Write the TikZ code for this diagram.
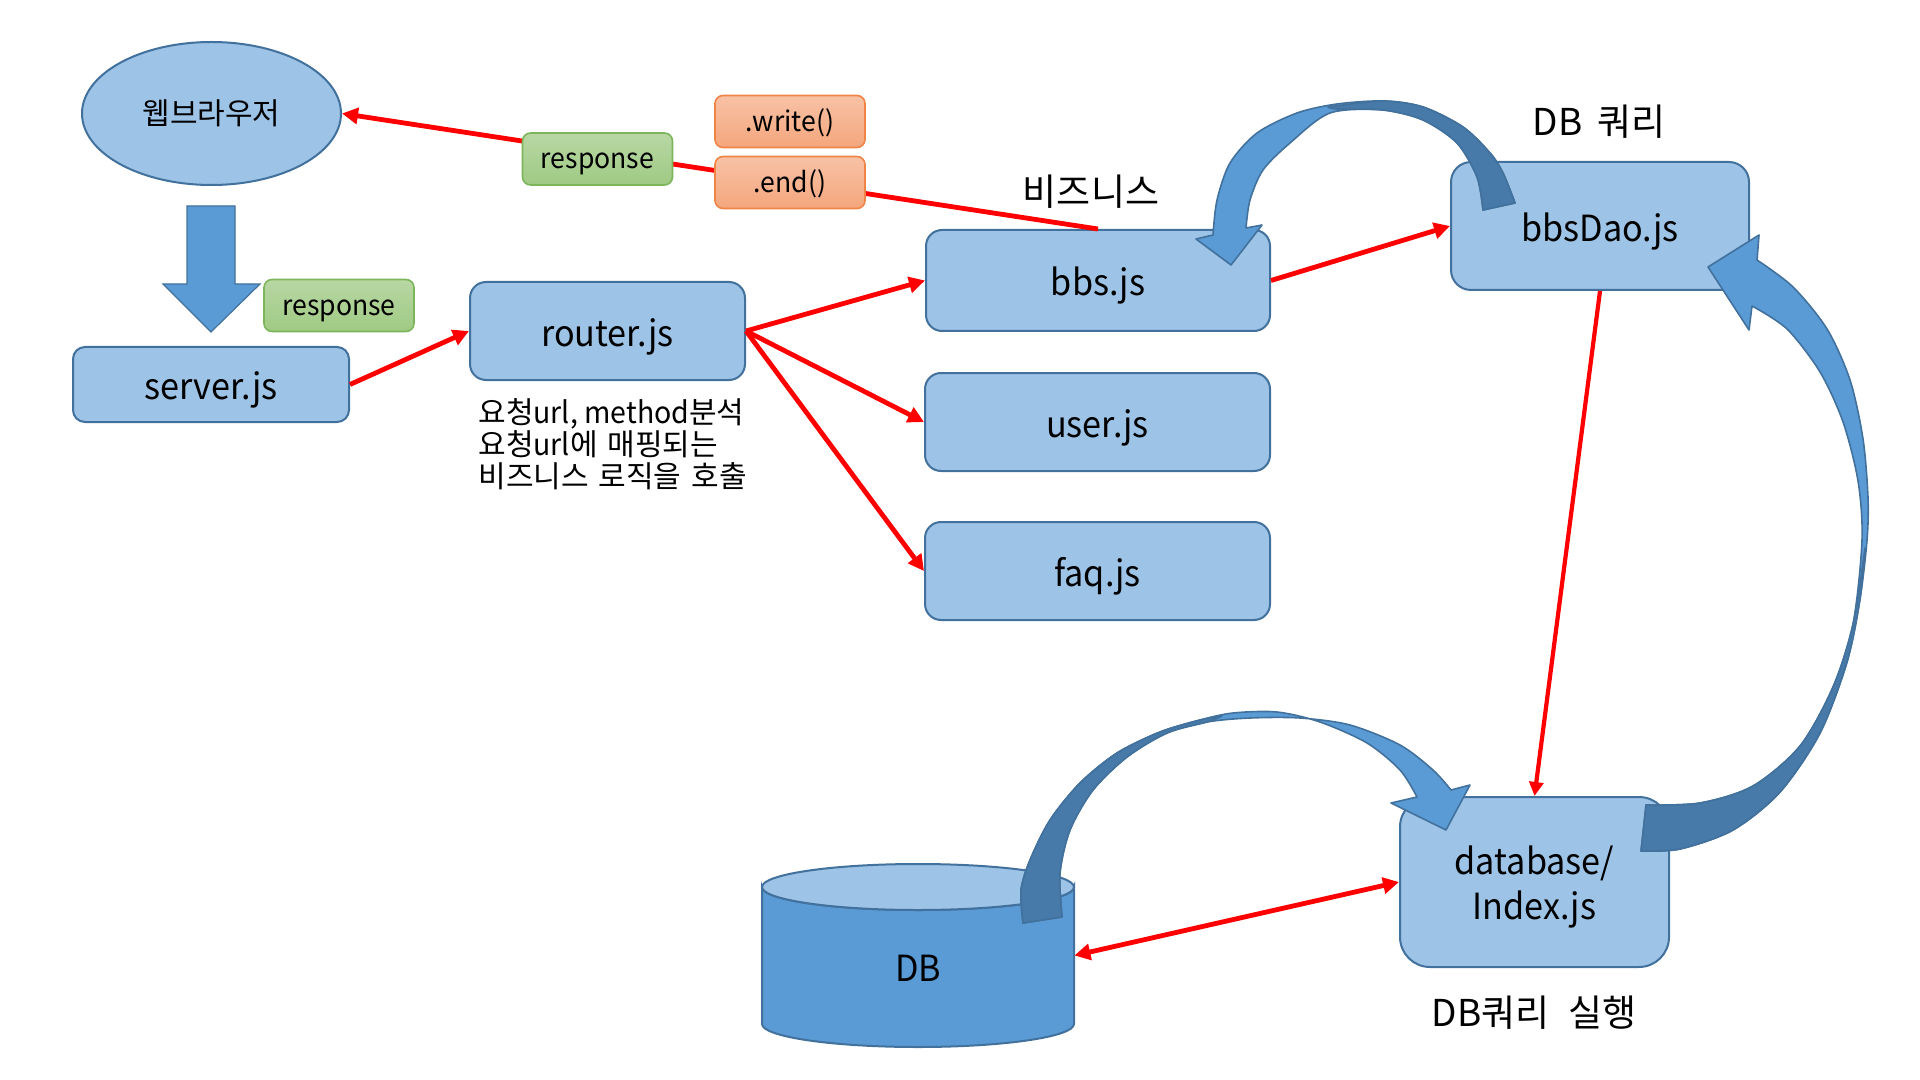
\documentclass[tikz,border=0pt]{standalone}
\usepackage{fontspec}
\setmainfont{Noto Sans CJK KR}
\newfontfamily\narrowfont[FakeStretch=0.95]{Noto Sans CJK KR}
\usetikzlibrary{arrows.meta, shapes.geometric}

\definecolor{boxfill}{HTML}{9DC3E6}
\definecolor{boxline}{HTML}{41719C}
\definecolor{flowlight}{HTML}{5B9BD5}
\definecolor{flowdark}{HTML}{477AA8}
\definecolor{tagtop}{HTML}{B8D7A4}
\definecolor{tagbottom}{HTML}{9FCA83}
\definecolor{tagline}{HTML}{7DB55A}
\definecolor{calltop}{HTML}{F8C2A6}
\definecolor{callbottom}{HTML}{F4A67C}
\definecolor{callline}{HTML}{EF8446}

\begin{document}
\begin{tikzpicture}[
  x = 0.5pt, y = -0.5pt,
  jsbox/.style = {rectangle, rounded corners = #1, fill = boxfill, draw = boxline, line width = 1pt,
    inner sep = 0pt, text height = 19.5pt, text depth = 4pt,
    font = \narrowfont\fontsize{18}{22.5}\selectfont},
  jsbox/.default = 8pt,
  resbox/.style = {rectangle, rounded corners = 4pt, top color = tagtop, bottom color = tagbottom,
    draw = tagline, line width = 0.8pt, minimum width = 75pt, minimum height = 26pt,
    inner sep = 0pt, text height = 12.5pt, text depth = 2.5pt,
    font = \narrowfont\fontsize{14}{16}\selectfont},
  callbox/.style = {resbox, top color = calltop, bottom color = callbottom, draw = callline},
  caption/.style = {inner sep = 0pt, font = \fontsize{18.5}{22}\selectfont},
  redflow/.style = {red, line width = 2.4pt, -{Triangle[length = 8pt, width = 8pt]}},
  bendband/.style = {draw = boxline, line width = 0.8pt, line join = round},
  ]
  \useasboundingbox (0,0) rectangle (1920,1080);

  % boxes
  \node[ellipse, fill = boxfill, draw = boxline, line width = 1pt, minimum width = 129.5pt,
    minimum height = 71.5pt, inner sep = 0pt, font = \fontsize{15}{17}\selectfont]
    (browser) at (211.5,113.5) {웹브라우저};
  \node[jsbox = 6pt, minimum width = 138pt, minimum height = 37.5pt] (server) at (211,384.5) {server.js};
  \node[jsbox, minimum width = 137.5pt, minimum height = 49pt] (router) at (607.5,331) {router.js};
  \node[jsbox, minimum width = 172pt, minimum height = 50.5pt] (bbs) at (1098,280.5) {bbs.js};
  \node[jsbox, minimum width = 172.5pt, minimum height = 49pt] (user) at (1097.5,422) {user.js};
  \node[jsbox, minimum width = 172.5pt, minimum height = 49pt] (faq) at (1097.5,571) {faq.js};
  \node[jsbox = 10pt, minimum width = 149pt, minimum height = 64pt] (dao) at (1600,226) {bbsDao.js};
  \node[jsbox = 15pt, minimum width = 134.5pt, minimum height = 85pt, align = center,
    text height = {}, text depth = {}]
    (dbindex) at (1534.5,882) {\rule{0pt}{19.7pt}database/\\Index.js};

  % DB cylinder
  \node[minimum width = 156pt, minimum height = 91.5pt, inner sep = 0pt] (db) at (918,955.5) {};
  \path[fill = flowlight, draw = boxline, line width = 1pt]
    (762,887) -- (762,1024) arc[start angle = 180, end angle = 0, x radius = 156, y radius = 23]
    -- (1074,887) arc[start angle = 0, end angle = 180, x radius = 156, y radius = 23] -- cycle;
  \draw[fill = boxfill, draw = boxline, line width = 1pt] (918,887) ellipse[x radius = 156, y radius = 23];
  \node[caption, font = \narrowfont\fontsize{18}{22}\selectfont] (dbtext) at (918,968) {DB};

  % response back to the browser
  \draw[redflow] (bbs.north) -- (browser.east);
  \node[resbox] (resp) at (597.5,159) {response};
  \node[callbox] (write) at (790,121.5) {.write()};
  \node[callbox] (end) at (790,182.5) {.end()};
  \node[resbox] (resp2) at (339,305.5) {response};

  % request flow
  \draw[redflow] (server.east) -- (router.west);
  \draw[redflow] (router.east) -- (bbs.west);
  \draw[redflow] (router.east) -- (user.west);
  \draw[redflow] (router.east) -- (faq.west);
  \draw[redflow] (bbs.east) -- (dao.west);
  \draw[redflow, line width = 2.1pt, -{Triangle[length = 7pt, width = 7pt]}] (dao.south) -- (dbindex.north);
  \draw[redflow, {Triangle[length = 8pt, width = 8pt]}-{Triangle[length = 8pt, width = 8pt]}]
    (db.east) -- (dbindex.west);

  % captions
  \node[anchor = north west, inner sep = 0pt, align = left, font = \fontsize{15}{16}\selectfont]
    (routernote) at (478,398)
    {요청{\narrowfont url, method}분석\\요청{\narrowfont url}에\hspace{0.33em}매핑되는\\비즈니스\hspace{0.33em}로직을\hspace{0.33em}호출};
  \node[caption] (bizlabel) at (1091,192) {비즈니스};
  \node[caption] (querylabel) at (1599,122) {DB\hspace{0.4em}쿼리};
  \node[caption] (runlabel) at (1534,1013) {DB쿼리\hspace{0.5em}실행};

  % block arrow down
  \draw[fill = flowlight, draw = boxline, line width = 0.6pt]
    (187,206) -- (235,206) -- (235,284) -- (260,284) -- (211,332) -- (163,284) -- (187,284) -- cycle;

  % curved arrow dao -> bbs
  \path[bendband, fill = flowlight]
    plot[smooth] coordinates {(1515,203) (1503,173) (1490,153) (1463,127) (1423,107) (1383,101)
      (1337,104) (1297,113) (1257,133) (1230,163) (1217,200) (1213,235)}
    -- (1196,239) -- (1231,265) -- (1262,225) -- (1246,228)
    -- plot[smooth] coordinates {(1246,228) (1250,200) (1263,170) (1290,143) (1330,113) (1383,110)
      (1423,120) (1457,143) (1477,177) (1483,210)} -- cycle;
  \path[bendband, fill = flowdark]
    plot[smooth] coordinates {(1328,107) (1383,101) (1423,107) (1463,127) (1490,153) (1503,173) (1515,203)}
    -- (1483,210)
    -- plot[smooth] coordinates {(1483,210) (1477,177) (1457,143) (1423,120) (1383,110) (1337,109) (1328,107)}
    -- cycle;

  % curved arrow dbindex -> dao
  \path[bendband, fill = flowlight]
    plot[smooth] coordinates {(1641,851) (1680,849) (1733,830) (1780,792) (1820,733) (1847,662)
      (1860,599) (1867,540) (1868,498) (1863,439) (1850,380) (1827,329) (1793,287) (1757,260)}
    -- (1759,235) -- (1708,267) -- (1749,330) -- (1752,306)
    -- plot[smooth] coordinates {(1752,306) (1787,329) (1820,372) (1843,422) (1858,481) (1862,540)
      (1853,624) (1833,687) (1800,746) (1753,786) (1700,803) (1646,805)} -- cycle;
  \path[bendband, fill = flowdark]
    plot[smooth] coordinates {(1865,548) (1860,599) (1847,662) (1820,733) (1780,792) (1733,830)
      (1680,849) (1641,851)}
    -- (1646,805)
    -- plot[smooth] coordinates {(1646,805) (1700,803) (1753,786) (1800,746) (1833,687) (1853,624) (1865,548)}
    -- cycle;

  % curved arrow db -> dbindex
  \path[bendband, fill = flowlight]
    plot[smooth] coordinates {(1023,923) (1021,890) (1030,860) (1050,820) (1080,783) (1117,753)
      (1160,732) (1200,720) (1233,713) (1277,712) (1320,722) (1367,743) (1400,770) (1417,797)}
    -- (1391,803) -- (1446,830) -- (1470,785) -- (1451,790)
    -- plot[smooth] coordinates {(1451,790) (1433,770) (1400,745) (1350,725) (1300,718) (1250,718)
      (1207,722) (1167,733) (1127,757) (1093,790) (1070,830) (1060,873) (1062,917)} -- cycle;
  \path[bendband, fill = flowdark]
    plot[smooth] coordinates {(1023,923) (1021,890) (1030,860) (1050,820) (1080,783) (1117,753)
      (1160,732) (1200,720) (1222,716)}
    -- plot[smooth] coordinates {(1222,716) (1207,722) (1167,733) (1127,757) (1093,790) (1070,830)
      (1060,873) (1062,917)}
    -- cycle;
\end{tikzpicture}
\end{document}
